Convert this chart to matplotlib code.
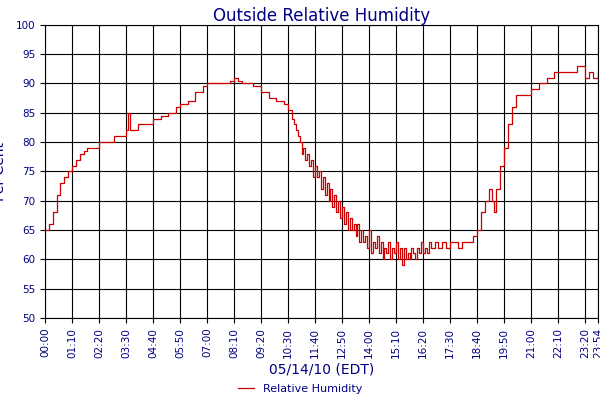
import matplotlib
matplotlib.use("Agg")
import matplotlib.pyplot as plt

# minutes after midnight
times = ([0,10,20,30,40,50,60,70,80,90,100,110,120,140,160,180,200,210,215,220,240,260,280,300,320,340,350,370,390,410,420,450,480,490,500,510,540,560,580,600,620,630]
         + list(range(640, 1001, 5))
         + [1010,1020,1030,1040,1050,1060,1070,1080,1090,1100,1110,1120,1130,1140,1150,1160,1165,1170,1180,1190,1200,1210,1220,1230,1240,1260,1280,1300,1320,1340,1360,1380,1395,1400,1410,1420,1434])
# relative humidity (%)
rh = ([65,66,68,71,73,74,75,76,77,78,78.5,79,79,80,80,81,81,82,85,82,83,83,84,84.5,85,86,86.5,87,88.5,89.5,90,90,90.5,91,90.5,90,89.5,88.5,87.5,87,86.5,85.5]
      + [84,83,82,81,80,78,79,77,78,76,
         77,74,76,74,75,72,74,71,73,70,
         72,69,71,68,70,67,69,66,68,65,
         67,65,66,64,66,63,65,63,64,62,
         65,61,63,62,64,61,63,60,62,61,
         63,60,62,61,63,60,62,59,62,60,
         61,60,62,61,60,62,61,63,61,62,
         61,63,62]
      + [63,62,63,62,63,63,62,63,63,63,
         64,65,68,70,72,70,68,72,76,79,
         83,86,88,88,88,89,90,91,92,92,
         92,93,93,91,92,91,92])

ticks = list(range(0, 1434, 70)) + [1434]
tick_labels = ["%02d:%02d" % (t // 60, t % 60) for t in ticks]

navy = "#000080"
fig = plt.figure(figsize=(6, 4), dpi=100)
ax = fig.add_axes([0.075, 0.205, 0.922, 0.733])
ax.step(times, rh, where="post", color="#cc0000", lw=0.9, label="Relative Humidity")
ax.set_xlim(0, 1434)
ax.set_ylim(50, 100)
ax.set_yticks(range(50, 101, 5))
ax.set_xticks(ticks)
ax.set_xticklabels(tick_labels, rotation=90, fontsize=7.5, color=navy)
ax.tick_params(axis="y", labelsize=7.5, labelcolor=navy)
ax.grid(True, color="black", lw=0.8)
ax.set_axisbelow(True)
ax.set_title("Outside Relative Humidity", color=navy, fontsize=12, pad=3)
ax.set_ylabel("Per Cent", color=navy, fontsize=10, labelpad=6)
ax.set_xlabel("05/14/10 (EDT)", color=navy, fontsize=10, labelpad=3)
fig.legend(loc="lower center", bbox_to_anchor=(0.5, -0.01), frameon=False, fontsize=8,
           labelcolor=navy, handlelength=1.5)
fig.savefig("out.png", dpi=100)
